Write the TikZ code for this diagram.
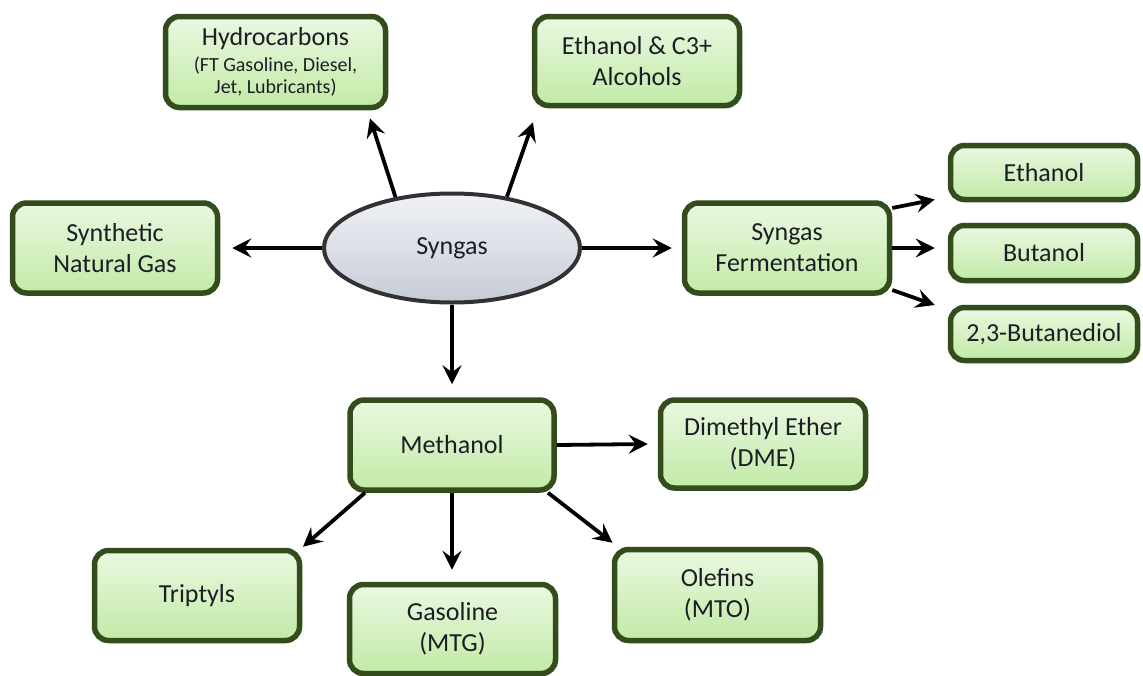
\documentclass[tikz,border=0pt]{standalone}
\usepackage{fontspec}
\setmainfont{Carlito}
\usetikzlibrary{arrows.meta,calc,shapes.geometric}
\definecolor{boxtop}{RGB}{234,248,225}
\definecolor{boxbot}{RGB}{194,234,166}
\definecolor{boxline}{RGB}{50,76,28}
\definecolor{elltop}{RGB}{240,242,246}
\definecolor{ellbot}{RGB}{198,203,214}
\definecolor{ellline}{RGB}{50,50,52}
\definecolor{txt}{RGB}{28,30,38}
\tikzset{
  gbox/.style={draw=boxline, line width=5.5pt, rounded corners=14pt,
    top color=boxtop, bottom color=boxbot, align=center, text=txt,
    font=\fontsize{26pt}{31pt}\selectfont, inner sep=0pt},
  ellnode/.style={ellipse, draw=ellline, line width=4pt,
    top color=elltop, bottom color=ellbot, text=txt,
    font=\fontsize{26pt}{31pt}\selectfont, inner sep=0pt,
    minimum width=256pt, minimum height=109pt},
  arr/.style={draw=black, line width=3.8pt,
    -{Stealth[length=19pt,width=19pt,inset=7pt]}}
}
\begin{document}
\begin{tikzpicture}[x=1pt,y=-1pt]
\useasboundingbox[fill=white] (0,0) rectangle (1143,675);
% nodes
\node[ellnode] (syn) at (452,248) {Syngas};
\node[gbox, minimum width=220pt, minimum height=91pt,
  font=\fontsize{26pt}{22pt}\selectfont] (hc) at (275.5,62)
  {Hydrocarbons\\[4.6pt]{\fontsize{20pt}{22pt}\selectfont (FT Gasoline, Diesel,}\\{\fontsize{20pt}{22pt}\selectfont Jet, Lubricants)}};
\node[gbox, minimum width=205pt, minimum height=89pt] (eth3) at (637,61)
  {Ethanol \& C3+\\Alcohols};
\node[gbox, minimum width=205pt, minimum height=90pt] (sng) at (115,248)
  {Synthetic\\Natural Gas};
\node[gbox, minimum width=205pt, minimum height=90pt] (ferm) at (787,248)
  {Syngas\\Fermentation};
\node[gbox, minimum width=187pt, minimum height=54pt] (eth) at (1044,172.5) {Ethanol};
\node[gbox, minimum width=187pt, minimum height=55pt] (but) at (1044,253) {Butanol};
\node[gbox, minimum width=187pt, minimum height=53pt] (bdo) at (1044,334) {2,3-Butanediol};
\node[gbox, minimum width=204pt, minimum height=90pt] (meth) at (452,445) {Methanol};
\node[gbox, minimum width=205pt, minimum height=88pt] (dme) at (763,444)
  {Dimethyl Ether\\(DME)};
\node[gbox, minimum width=205pt, minimum height=90pt] (trip) at (197,595.5) {Triptyls};
\node[gbox, minimum width=206pt, minimum height=89pt] (gas) at (452.5,629)
  {Gasoline\\(MTG)};
\node[gbox, minimum width=206pt, minimum height=91pt] (olef) at (717.5,595)
  {Olefins\\(MTO)};
% connectors
\draw[arr] (syn.138) -- ([xshift=94.5pt,yshift=-8pt]hc.south);
\draw[arr] (syn.43) -- ([xshift=-104pt,yshift=-14pt]eth3.south);
\draw[arr] (syn.west) -- ([xshift=12pt]sng.east);
\draw[arr] (syn.east) -- ([xshift=-10pt]ferm.west);
\draw[arr] (syn.south) -- ([yshift=13pt]meth.north);
\draw[arr] ([yshift=40pt]ferm.east) -- ([xshift=-13pt,yshift=-27pt]eth.west);
\draw[arr] (ferm.east) -- ($(ferm.east -| but.west)+(-13,0)$);
\draw[arr] ([yshift=-42pt]ferm.east) -- ([xshift=-13pt,yshift=29pt]bdo.west);
\draw[arr] (meth.east) -- ([xshift=-10pt]dme.west);
\draw[arr] ([xshift=-87pt]meth.south) -- ([xshift=106pt,yshift=1pt]trip.north);
\draw[arr] (meth.south) -- ([yshift=12pt]gas.north -| meth.south);
\draw[arr] ([xshift=96pt]meth.south) -- ([xshift=-105pt,yshift=4pt]olef.north);
\end{tikzpicture}
\end{document}
